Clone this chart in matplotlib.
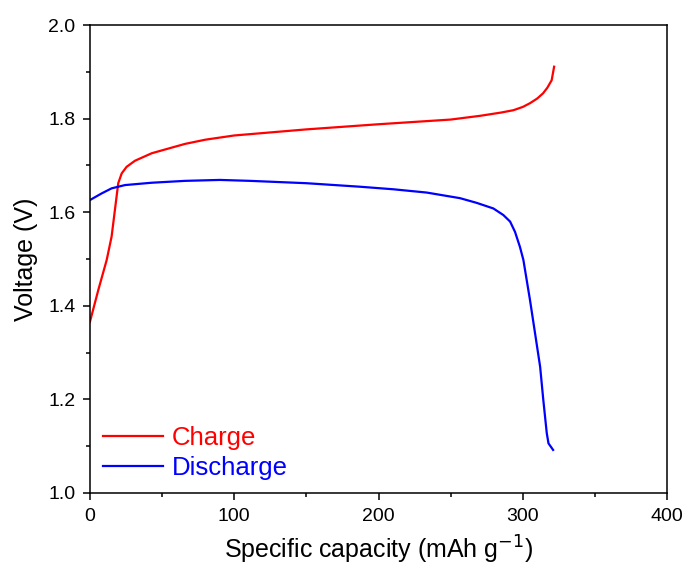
import matplotlib.pyplot as plt
from matplotlib.ticker import MultipleLocator

plt.rcParams['font.family'] = ['Liberation Sans', 'DejaVu Sans']

# charge curve (capacity in mAh/g, voltage in V)
charge_cap = [0, 5.8, 11.6, 15, 17.3, 19.6, 22, 25.4, 31.2, 42.8, 54.3, 65.9, 80,
              100, 150, 200, 250, 270.4, 285, 293.5, 300, 305, 310, 314, 317, 320, 321.7]
charge_v = [1.366, 1.434, 1.498, 1.548, 1.605, 1.662, 1.683, 1.697, 1.710, 1.726,
            1.736, 1.746, 1.755, 1.764, 1.777, 1.788, 1.798, 1.806, 1.813, 1.818,
            1.825, 1.833, 1.843, 1.854, 1.866, 1.882, 1.911]

# discharge curve
discharge_cap = [0, 8, 15, 24.3, 42.8, 65.9, 90, 111, 150, 187, 210.3, 233.4, 256.5,
                 268, 279.6, 286.5, 291.2, 294.6, 298, 300.4, 305, 308.5, 312, 314.2,
                 316.6, 317.8, 321]
discharge_v = [1.626, 1.640, 1.651, 1.658, 1.663, 1.667, 1.669, 1.667, 1.662, 1.6545,
               1.649, 1.642, 1.630, 1.620, 1.608, 1.594, 1.580, 1.558, 1.526, 1.498,
               1.412, 1.341, 1.27, 1.199, 1.128, 1.106, 1.092]


def main():
    fig = plt.figure(figsize=(6.92, 5.69), dpi=100)
    ax = fig.add_axes([0.130, 0.1336, 0.834, 0.8224])

    ax.plot(charge_cap, charge_v, color='#ff0000', lw=1.6, label='Charge',
            solid_joinstyle='round')
    ax.plot(discharge_cap, discharge_v, color='#0000ff', lw=1.6, label='Discharge',
            solid_joinstyle='round')

    ax.set_xlim(0, 400)
    ax.set_ylim(1.0, 2.0)
    ax.xaxis.set_major_locator(MultipleLocator(100))
    ax.xaxis.set_minor_locator(MultipleLocator(50))
    ax.yaxis.set_major_locator(MultipleLocator(0.2))
    ax.yaxis.set_minor_locator(MultipleLocator(0.1))
    ax.yaxis.set_major_formatter(plt.FormatStrFormatter('%.1f'))

    for s in ax.spines.values():
        s.set_linewidth(1.1)
    ax.tick_params(which='major', direction='out', length=5, width=1.1,
                   labelsize=14, pad=5.5)
    ax.tick_params(which='minor', direction='out', length=3, width=1.1)

    ax.set_xlabel('Specific capacity (mAh g$^{-1}$)', fontsize=18, labelpad=7)
    ax.set_ylabel('Voltage (V)', fontsize=18, labelpad=7)

    ax.legend(loc='lower left', frameon=False,
              fontsize=18.5, labelcolor='linecolor', handlelength=2.33,
              handletextpad=0.35, labelspacing=0.25, borderaxespad=0.1,
              borderpad=0.4)

    fig.savefig('out.png', dpi=100)


if __name__ == '__main__':
    main()
